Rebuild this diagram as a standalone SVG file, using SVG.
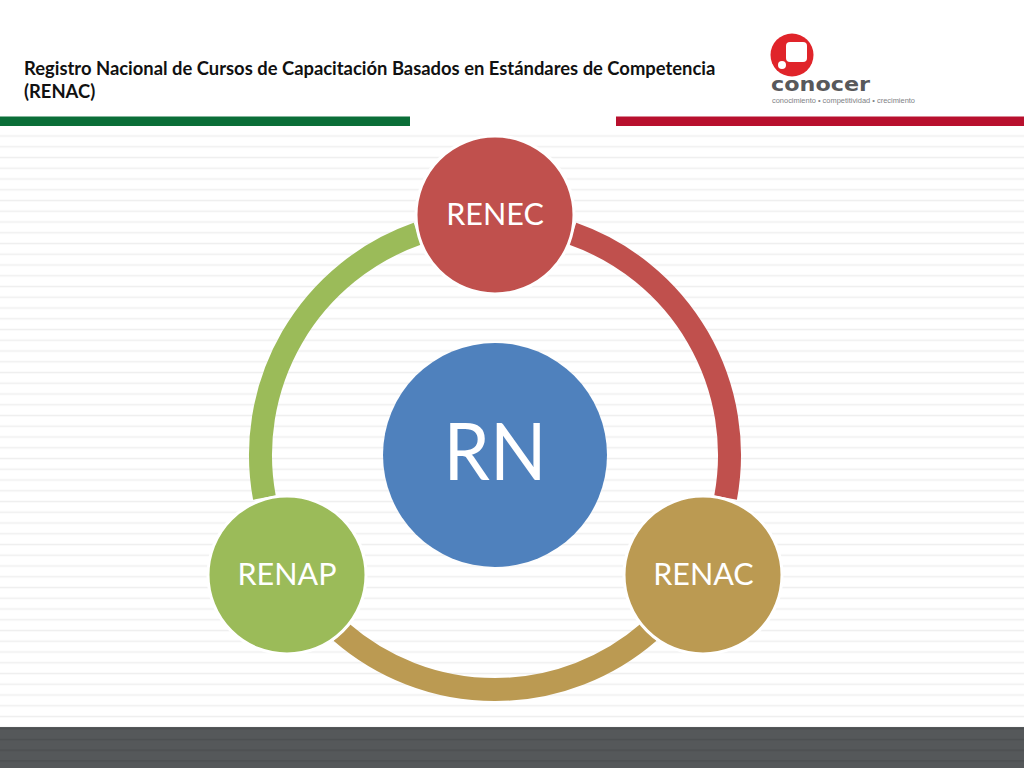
<svg xmlns="http://www.w3.org/2000/svg" width="1024" height="768" viewBox="0 0 1024 768">
<style>
.t{font-family:"Lato","Liberation Sans",sans-serif}
.title{font-size:18.4px;font-weight:700;fill:#111}
.n{font-size:30.5px;fill:#fff;text-anchor:middle}
.a{fill:none;stroke-width:23}
.c{stroke:#fff;stroke-width:3}
</style>
<defs>
<pattern id="st" patternUnits="userSpaceOnUse" x="0" y="130.6" width="64" height="10.75"><rect y="4.6" width="64" height="1.6" fill="#efefef"/></pattern>
<pattern id="fs" patternUnits="userSpaceOnUse" x="0" y="727" width="64" height="10.75"><rect y="1" width="64" height="1.4" fill="#4b4e50"/></pattern>
</defs>
<rect width="1024" height="768" fill="#fff"/>
<rect y="130" width="1024" height="597" fill="url(#st)"/>
<rect y="727" width="1024" height="41" fill="#55585a"/>
<rect y="727" width="1024" height="41" fill="url(#fs)"/>
<rect y="116.5" width="410" height="9.5" fill="#0b6e38"/>
<rect x="616" y="116.5" width="408" height="9.5" fill="#b8102e"/>
<text class="t title" x="24" y="75">Registro Nacional de Cursos de Capacitación Basados en Estándares de Competencia</text>
<text class="t title" x="24" y="98.3">(RENAC)</text>
<g id="logo">
<circle cx="792" cy="55" r="21.5" fill="#e0242a"/>
<rect x="786" y="42" width="21" height="20" rx="4" fill="#fff"/>
<circle cx="782" cy="65" r="4" fill="#fff"/>
<text x="771" y="91" font-family="'DejaVu Sans',sans-serif" font-weight="700" font-size="20" fill="#58595b" textLength="99" lengthAdjust="spacingAndGlyphs">conocer</text>
<text x="772" y="102.5" font-family="'Liberation Sans',sans-serif" font-size="7" fill="#808285" textLength="143" lengthAdjust="spacingAndGlyphs">conocimiento • competitividad • crecimiento</text>
</g>
<g id="connectors">
<path class="a" stroke="#c0504d" d="M572.5 233.7A234.5 234.5 0 0 1 725.6 497.7"/>
<path class="a" stroke="#bb9a52" d="M648.9 632A234.5 234.5 0 0 1 341.1 632"/>
<path class="a" stroke="#9bbb59" d="M264.4 497.7A234.5 234.5 0 0 1 417.5 233.7"/>
</g>
<g id="rn"><circle cx="495" cy="455" r="112" fill="#4f81bd"/><text class="t" x="495" y="480" font-size="79" fill="#fff" text-anchor="middle" textLength="103" lengthAdjust="spacingAndGlyphs">RN</text></g>
<g id="renec"><circle class="c" cx="495" cy="215" r="79" fill="#c0504d"/><text class="t n" x="495" y="224.5">RENEC</text></g>
<g id="renac"><circle class="c" cx="703" cy="575" r="79" fill="#bb9a52"/><text class="t n" x="703.5" y="584.5">RENAC</text></g>
<g id="renap"><circle class="c" cx="287" cy="575" r="79" fill="#9bbb59"/><text class="t n" x="287" y="584.5">RENAP</text></g>
</svg>
